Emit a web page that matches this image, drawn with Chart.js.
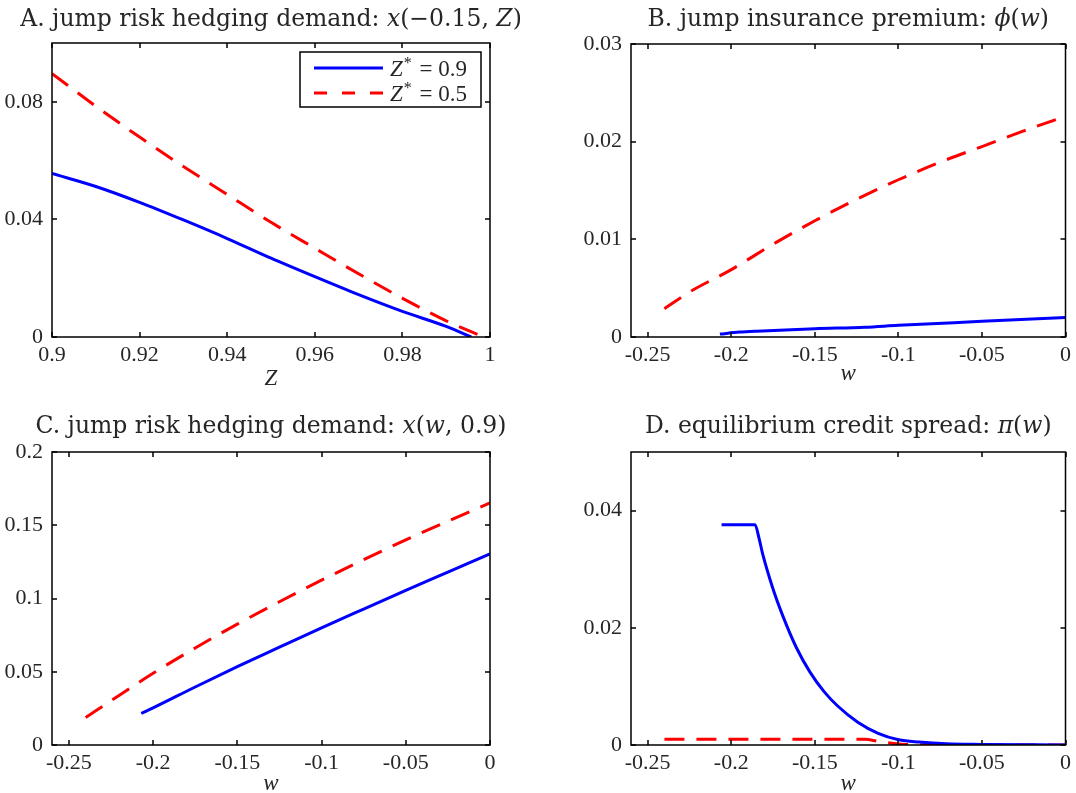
<!DOCTYPE html>
<html>
<head>
<meta charset="utf-8">
<script src="https://cdn.jsdelivr.net/npm/chart.js@4.4.0/dist/chart.umd.min.js"></script>
<style>
  body { margin: 0; background: #fff; }
  #wrap { position: relative; width: 1076px; height: 793px; }
  canvas { position: absolute; }
</style>
</head>
<body>
<div id="wrap">
  <canvas id="chartA" width="538" height="396" style="left:0;top:0"></canvas>
  <canvas id="chartB" width="538" height="396" style="left:538px;top:0"></canvas>
  <canvas id="chartC" width="538" height="397" style="left:0;top:396px"></canvas>
  <canvas id="chartD" width="538" height="397" style="left:538px;top:396px"></canvas>
</div>
<script>
// series labels
const labels = ["Z* = 0.9", "Z* = 0.5"];

// A. jump risk hedging demand x(-0.15, Z), against Z
const zBlueA = [0.9, 0.91, 0.92, 0.93, 0.94, 0.95, 0.96, 0.97, 0.98, 0.99, 0.9957];
const xBlueA = [0.0556, 0.0512, 0.0458, 0.0398, 0.0335, 0.0268, 0.0205, 0.0144, 0.0087, 0.0036, 0];
const zRedA = [0.9, 0.91, 0.92, 0.93, 0.94, 0.95, 0.96, 0.97, 0.98, 0.99, 0.9985];
const xRedA = [0.0896, 0.0785, 0.068, 0.058, 0.0485, 0.039, 0.0302, 0.0215, 0.0132, 0.0055, 0];
const xTicksA = [0.9, 0.92, 0.94, 0.96, 0.98, 1];
const yTicksA = [0, 0.04, 0.08];

// B. jump insurance premium phi(w)
const wBlueB = [-0.2068, -0.195, -0.185, -0.15, -0.12, -0.1, -0.05, 0];
const phiBlue = [0.0003, 0.0005, 0.0006, 0.00085, 0.001, 0.0012, 0.0016, 0.002];
const wRedB = [-0.24, -0.225, -0.2, -0.175, -0.15, -0.125, -0.1, -0.075, -0.05, -0.025, 0];
const phiRed = [0.0029, 0.0046, 0.0069, 0.0095, 0.0119, 0.0141, 0.0161, 0.0179, 0.0195, 0.0211, 0.0226];
const yTicksB = [0, 0.01, 0.02, 0.03];

// C. jump risk hedging demand x(w, 0.9)
const wBlueC = [-0.207, -0.2, -0.175, -0.15, -0.125, -0.1, -0.075, -0.05, -0.025, 0];
const xBlueC = [0.0215, 0.0253, 0.0396, 0.0535, 0.0668, 0.08, 0.0928, 0.1055, 0.118, 0.1305];
const wRedC = [-0.24, -0.22, -0.2, -0.175, -0.15, -0.125, -0.1, -0.075, -0.05, -0.025, 0];
const xRedC = [0.0188, 0.034, 0.049, 0.0662, 0.0825, 0.0978, 0.1125, 0.1265, 0.14, 0.1528, 0.1653];
const yTicksC = [0, 0.05, 0.1, 0.15, 0.2];

// D. equilibrium credit spread pi(w)
const wBlueD = [-0.2058, -0.1858, -0.1834, -0.1813, -0.1752, -0.1691, -0.161, -0.1528, -0.1447,
                -0.1365, -0.1243, -0.1121, -0.0998, -0.0876, -0.0713, -0.05, 0];
const piBlue = [0.0376, 0.0376, 0.0353, 0.0327, 0.0268, 0.022, 0.0166, 0.0124, 0.0092,
                0.0067, 0.0039, 0.002, 0.0009, 0.0005, 0.0002, 0.0001, 0];
const wRedD = [-0.24, -0.2, -0.15, -0.12, -0.112, -0.104, -0.096, -0.085, -0.06, 0];
const piRed = [0.001, 0.001, 0.001, 0.00098, 0.0006, 0.0003, 0.0001, 0.00003, 0, 0];
const yTicksD = [0, 0.02, 0.04];

const wTicks = [-0.25, -0.2, -0.15, -0.1, -0.05, 0];

const serif = "'Liberation Serif', 'Times New Roman', serif";
const titleSerif = "'DejaVu Serif', serif";
Chart.defaults.font.family = serif;
Chart.defaults.font.size = 22;
Chart.defaults.color = '#262626';
Chart.defaults.animation = false;

function pts(xs, ys) {
  return xs.map((x, i) => ({x: x, y: ys[i]}));
}

function blueSet(xs, ys) {
  return {label: labels[0], data: pts(xs, ys), borderColor: '#0000ff', borderWidth: 3,
          pointRadius: 0, cubicInterpolationMode: 'monotone', fill: false};
}
function redSet(xs, ys) {
  return {label: labels[1], data: pts(xs, ys), borderColor: '#ff0000', borderWidth: 3,
          borderDash: [20, 12], pointRadius: 0, cubicInterpolationMode: 'monotone', fill: false};
}

// box round the plot with inward ticks on all four sides
const frame = {
  id: 'frame',
  afterDatasetsDraw(chart) {
    const {ctx, chartArea: a, scales} = chart;
    ctx.save();
    ctx.strokeStyle = '#000';
    ctx.lineWidth = 1.5;
    ctx.beginPath();
    scales.x.ticks.forEach(t => {
      const px = Math.round(scales.x.getPixelForValue(t.value));
      ctx.moveTo(px, a.bottom); ctx.lineTo(px, a.bottom - 5);
      ctx.moveTo(px, a.top); ctx.lineTo(px, a.top + 5);
    });
    scales.y.ticks.forEach(t => {
      const py = Math.round(scales.y.getPixelForValue(t.value));
      ctx.moveTo(a.left, py); ctx.lineTo(a.left + 5, py);
      ctx.moveTo(a.right, py); ctx.lineTo(a.right - 5, py);
    });
    ctx.stroke();
    ctx.strokeRect(a.left, a.top, a.right - a.left, a.bottom - a.top);
    ctx.restore();
  }
};

// title with italic math parts
const mathTitle = {
  id: 'mathTitle',
  afterDraw(chart, args, opts) {
    const {ctx, chartArea: a} = chart;
    ctx.save();
    ctx.fillStyle = '#262626';
    ctx.textBaseline = 'alphabetic';
    const fonts = opts.parts.map(p => (p[1] ? 'italic ' : '') + opts.size + 'px ' + titleSerif);
    let total = 0;
    opts.parts.forEach((p, i) => { ctx.font = fonts[i]; total += ctx.measureText(p[0]).width; });
    let x = (a.left + a.right) / 2 - total / 2;
    opts.parts.forEach((p, i) => {
      ctx.font = fonts[i];
      ctx.fillText(p[0], x, opts.y);
      x += ctx.measureText(p[0]).width;
    });
    ctx.restore();
  }
};

// legend box inside panel A
const boxLegend = {
  id: 'boxLegend',
  afterDraw(chart) {
    const {ctx, chartArea: a} = chart;
    const bw = 181, bh = 55;
    const bx = a.right - 9 - bw, by = a.top + 9;
    ctx.save();
    ctx.fillStyle = '#fff';
    ctx.fillRect(bx, by, bw, bh);
    ctx.strokeStyle = '#000';
    ctx.lineWidth = 1.5;
    ctx.strokeRect(bx, by, bw, bh);
    chart.data.datasets.forEach((ds, i) => {
      const ly = by + 16 + i * 25;
      ctx.strokeStyle = ds.borderColor;
      ctx.lineWidth = ds.borderWidth;
      ctx.setLineDash(ds.borderDash ? [13, 15] : []);
      ctx.beginPath();
      ctx.moveTo(bx + 14, ly); ctx.lineTo(bx + 83, ly);
      ctx.stroke();
      ctx.setLineDash([]);
      const parts = ds.label.split('*');
      let tx = bx + 90;
      const base = ly + 8;
      ctx.fillStyle = '#262626';
      ctx.font = 'italic 23px ' + serif;
      ctx.fillText(parts[0], tx, base);
      tx += ctx.measureText(parts[0]).width + 1;
      ctx.font = '16px ' + serif;
      ctx.fillText('*', tx, base - 8);
      tx += ctx.measureText('*').width + 2;
      ctx.font = '23px ' + serif;
      ctx.fillText(parts[1], tx, base);
    });
    ctx.restore();
  }
};

function makeChart(id, cfg) {
  const yTickVals = cfg.yTicks, xTickVals = cfg.xTicks;
  return new Chart(document.getElementById(id), {
    type: 'line',
    data: {datasets: cfg.datasets},
    options: {
      responsive: false,
      layout: {padding: {top: cfg.top, right: cfg.right, left: 0, bottom: 0}},
      plugins: {
        legend: {display: false},
        tooltip: {enabled: false},
        mathTitle: {parts: cfg.title, y: cfg.titleY, size: 23.5}
      },
      scales: {
        x: {
          type: 'linear', min: cfg.xMin, max: cfg.xMax,
          grid: {display: false, drawTicks: false}, border: {display: false},
          afterBuildTicks: s => { s.ticks = xTickVals.map(v => ({value: v})); },
          afterFit: s => { s.height = cfg.xHeight; },
          ticks: {padding: 5, maxRotation: 0, autoSkip: false, callback: v => String(v)},
          title: {display: true, text: cfg.xTitle, font: {style: 'italic', size: 23},
                  padding: {top: 0, bottom: cfg.xTitlePad}}
        },
        y: {
          type: 'linear', min: cfg.yMin, max: cfg.yMax,
          grid: {display: false, drawTicks: false}, border: {display: false},
          afterBuildTicks: s => { s.ticks = yTickVals.map(v => ({value: v})); },
          afterFit: s => { s.width = cfg.yWidth; },
          ticks: {padding: 9, autoSkip: false, callback: v => String(v)}
        }
      }
    },
    plugins: cfg.extra ? [frame, mathTitle, cfg.extra] : [frame, mathTitle]
  });
}

makeChart('chartA', {
  datasets: [blueSet(zBlueA, xBlueA), redSet(zRedA, xRedA)],
  xMin: 0.9, xMax: 1, yMin: 0, yMax: 0.1, xTicks: xTicksA, yTicks: yTicksA,
  top: 43, right: 48, yWidth: 52, xHeight: 59, xTitle: 'Z', xTitlePad: 3,
  title: [['A. jump risk hedging demand: ', false], ['x', true], ['(\u22120.15, ', false], ['Z', true], [')', false]],
  titleY: 26, extra: boxLegend
});

makeChart('chartB', {
  datasets: [blueSet(wBlueB, phiBlue), redSet(wRedB, phiRed)],
  xMin: -0.26, xMax: 0, yMin: 0, yMax: 0.03, xTicks: wTicks, yTicks: yTicksB,
  top: 44, right: 7, yWidth: 93, xHeight: 59, xTitle: 'w', xTitlePad: 8,
  title: [['B. jump insurance premium: ', false], ['\u03d5', true], ['(', false], ['w', true], [')', false]],
  titleY: 26
});

makeChart('chartC', {
  datasets: [blueSet(wBlueC, xBlueC), redSet(wRedC, xRedC)],
  xMin: -0.26, xMax: 0, yMin: 0, yMax: 0.2, xTicks: wTicks, yTicks: yTicksC,
  top: 56, right: 48, yWidth: 52, xHeight: 48, xTitle: 'w', xTitlePad: -5,
  title: [['C. jump risk hedging demand: ', false], ['x', true], ['(', false], ['w', true], [', 0.9)', false]],
  titleY: 37
});

makeChart('chartD', {
  datasets: [blueSet(wBlueD, piBlue), redSet(wRedD, piRed)],
  xMin: -0.26, xMax: 0, yMin: 0, yMax: 0.05, xTicks: wTicks, yTicks: yTicksD,
  top: 56, right: 7, yWidth: 93, xHeight: 48, xTitle: 'w', xTitlePad: -5,
  title: [['D. equilibrium credit spread: ', false], ['\u03c0', true], ['(', false], ['w', true], [')', false]],
  titleY: 37
});
</script>
</body>
</html>
